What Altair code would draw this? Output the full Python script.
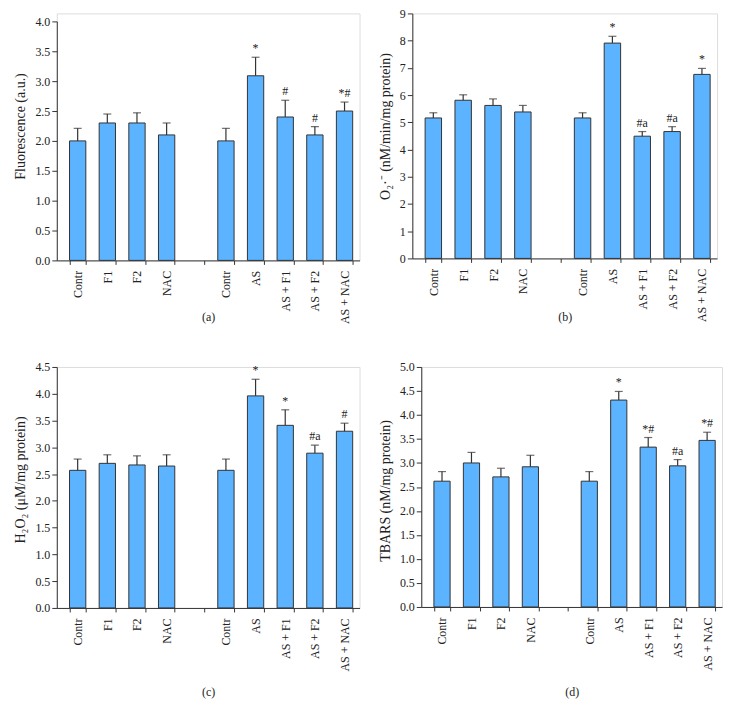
import altair as alt
import pandas as pd

# ---- data ----
slots = ["Contr", "F1", "F2", "NAC", "  ", " Contr", "AS", "AS + F1", "AS + F2", "AS + NAC"]
bar_slots = ["Contr", "F1", "F2", "NAC", " Contr", "AS", "AS + F1", "AS + F2", "AS + NAC"]

fluo_mean = [2.00, 2.30, 2.30, 2.10, 2.00, 3.09, 2.40, 2.10, 2.50]
fluo_err = [0.21, 0.15, 0.17, 0.20, 0.21, 0.31, 0.28, 0.14, 0.15]
fluo_note = ["", "", "", "", "", "*", "#", "#", "*#"]
fluo_ticks = [0.0, 0.5, 1.0, 1.5, 2.0, 2.5, 3.0, 3.5, 4.0]

o2_mean = [5.16, 5.81, 5.62, 5.38, 5.16, 7.91, 4.49, 4.66, 6.76]
o2_err = [0.19, 0.20, 0.24, 0.24, 0.19, 0.25, 0.17, 0.18, 0.22]
o2_note = ["", "", "", "", "", "*", "#a", "#a", "*"]
o2_ticks = [0, 1, 2, 3, 4, 5, 6, 7, 8, 9]

h2o2_mean = [2.57, 2.70, 2.67, 2.65, 2.57, 3.96, 3.41, 2.89, 3.30]
h2o2_err = [0.21, 0.16, 0.17, 0.21, 0.21, 0.31, 0.29, 0.15, 0.15]
h2o2_note = ["", "", "", "", "", "*", "*", "#a", "#"]
h2o2_ticks = [0.0, 0.5, 1.0, 1.5, 2.0, 2.5, 3.0, 3.5, 4.0, 4.5]

tbars_mean = [2.62, 3.00, 2.71, 2.92, 2.62, 4.31, 3.33, 2.94, 3.47]
tbars_err = [0.20, 0.22, 0.18, 0.24, 0.20, 0.18, 0.20, 0.13, 0.17]
tbars_note = ["", "", "", "", "", "*", "*#", "#a", "*#"]
tbars_ticks = [0.0, 0.5, 1.0, 1.5, 2.0, 2.5, 3.0, 3.5, 4.0, 4.5, 5.0]

FONT = "Liberation Serif"
FILL = "#5cb3ff"
DARK = "#333333"


def panel(mean, err, note, ticks, fmt, ytitle, caption, width, height, cap_y, title_y, top_gap=0):
    df = pd.DataFrame({
        "cat": bar_slots,
        "mean": mean,
        "top": [m + e for m, e in zip(mean, err)],
        "note": note,
    })
    ymax = ticks[-1]
    x = alt.X(
        "cat:N",
        sort=slots,
        scale=alt.Scale(domain=slots, paddingInner=0.45, paddingOuter=0.33, align=0.65),
        axis=alt.Axis(
            title=caption, labelAngle=-90, tickBand="extent", tickSize=4,
            labelFont=FONT, labelFontSize=12, labelColor="#222", labelPadding=6,
            domainColor=DARK, tickColor=DARK,
            titleFont=FONT, titleFontSize=12, titleFontWeight="normal", titleColor="#222",
            titleX=width / 2, titleY=cap_y, titleAnchor="middle", titleBaseline="middle",
        ),
    )
    yscale = alt.Scale(domain=[0, ymax], nice=False, zero=True, range=[height, top_gap])
    yaxis = alt.Axis(
        title=ytitle, values=ticks, tickCount=len(ticks), format=fmt, grid=False, tickSize=5,
        labelOverlap=False, labelFlush=False,
        labelFont=FONT, labelFontSize=12, labelColor="#222",
        titleFont=FONT, titleFontSize=14, titleFontWeight="normal", titleColor="#222",
        domainColor=DARK, tickColor=DARK, titlePadding=7, titleY=title_y,
    )
    base = alt.Chart(df)
    bars = base.mark_bar(fill=FILL, stroke=DARK, strokeWidth=1).encode(
        x=x, y=alt.Y("mean:Q", scale=yscale, axis=yaxis, title=ytitle))
    whisk = base.mark_rule(color=DARK, strokeWidth=1.2).encode(
        x=x, y=alt.Y("mean:Q", scale=yscale, axis=yaxis, title=ytitle), y2="top:Q")
    cap = base.mark_tick(color=DARK, size=8, thickness=1.2).encode(
        x=x, y=alt.Y("top:Q", scale=yscale, axis=yaxis, title=ytitle))
    txt = base.mark_text(font=FONT, fontSize=12, color="#222", baseline="bottom", dy=-2).encode(
        x=x, y=alt.Y("top:Q", scale=yscale, axis=yaxis, title=ytitle), text="note:N"
    )
    return alt.layer(bars, whisk, cap, txt).properties(width=width, height=height)


pa = panel(fluo_mean, fluo_err, fluo_note, fluo_ticks, ".1f", "Fluorescence (a.u.)", "(a)", 304, 248, 56, 113,
           top_gap=8)
pb = panel(o2_mean, o2_err, o2_note, o2_ticks, "d", "O₂·⁻ (nM/min/mg protein)", "(b)", 306, 246, 58, 113)
pc = panel(h2o2_mean, h2o2_err, h2o2_note, h2o2_ticks, ".1f", "H₂O₂ (μM/mg protein)", "(c)", 304, 242, 84, 113)
pd_ = panel(tbars_mean, tbars_err, tbars_note, tbars_ticks, ".1f", "TBARS (nM/mg protein)", "(d)", 302, 241, 85, 124)

chart = alt.vconcat(
    alt.hconcat(pa, pb, spacing=17),
    alt.hconcat(pc, pd_, spacing=17),
    spacing=36,
).properties(
    padding={"left": 5, "top": -3, "right": 5, "bottom": 5}
).configure_view(stroke=None, strokeWidth=0).configure(background="white")

chart.save("out.html", embed_options={"renderer": "svg", "actions": False})
